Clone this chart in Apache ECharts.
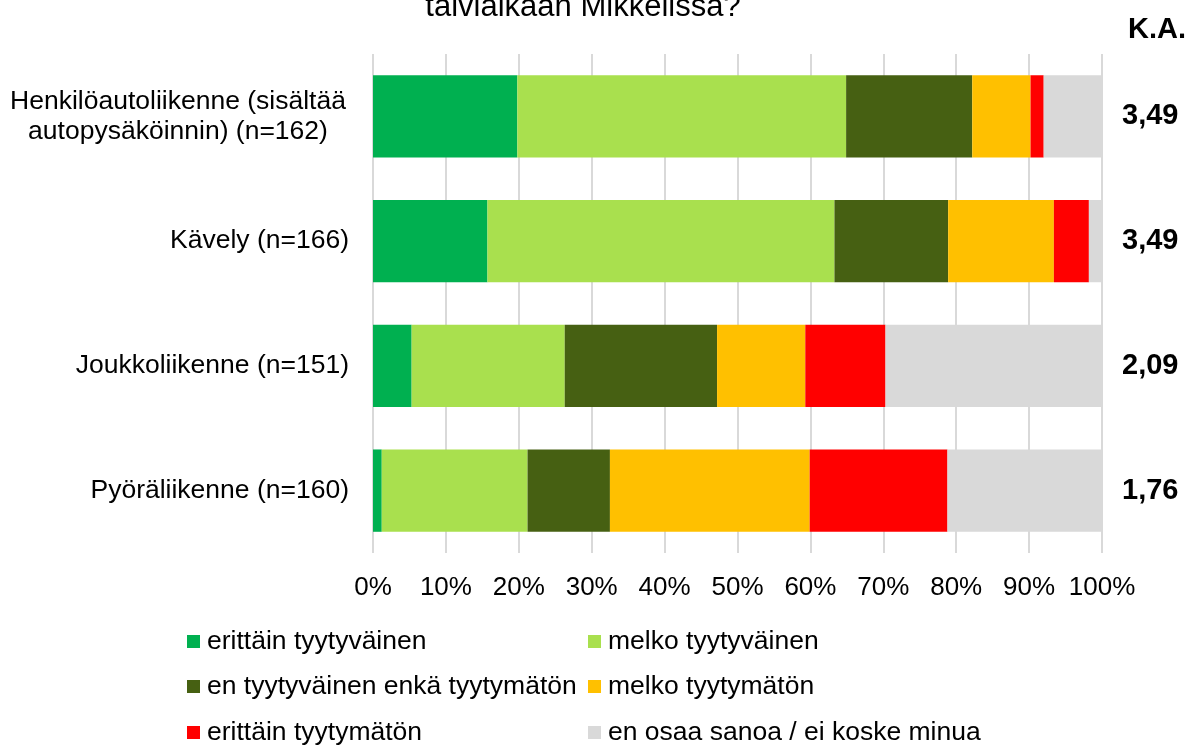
<!DOCTYPE html>
<html>
<head>
<meta charset="utf-8">
<script src="https://cdn.jsdelivr.net/npm/echarts@6/dist/echarts.min.js"></script>
<style>
html,body{margin:0;padding:0;background:#fff;}
#chart{width:1191px;height:747px;}
</style>
</head>
<body>
<div id="chart"></div>
<script>
var titleText = 'talviaikaan Mikkelissä?';
var kaHeader = 'K.A.';
var categories = ['Henkilöautoliikenne (sisältää\nautopysäköinnin) (n=162)', 'Kävely (n=166)', 'Joukkoliikenne (n=151)', 'Pyöräliikenne (n=160)'];
var kaValues = ['3,49', '3,49', '2,09', '1,76'];
var seriesNames = ['erittäin tyytyväinen', 'melko tyytyväinen', 'en tyytyväinen enkä tyytymätön', 'melko tyytymätön', 'erittäin tyytymätön', 'en osaa sanoa / ei koske minua'];
var s1 = [19.8, 15.7, 5.3, 1.2];
var s2 = [45.1, 47.6, 21.0, 20.0];
var s3 = [17.3, 15.6, 20.9, 11.3];
var s4 = [8.0, 14.5, 12.1, 27.4];
var s5 = [1.8, 4.8, 11.0, 18.9];
var s6 = [8.0, 1.8, 29.7, 21.2];
var seriesValues = [s1, s2, s3, s4, s5, s6];
var colors = ['#00B050', '#A9E04E', '#466012', '#FFC000', '#FF0000', '#D9D9D9'];

var FONT = '"Liberation Sans", Arial, sans-serif';
var chart = echarts.init(document.getElementById('chart'));

var legendPos = [[187, 628], [588, 628], [187, 673], [588, 673], [187, 719], [588, 719]];
var legends = seriesNames.map(function (n, i) {
  return {
    data: [n], left: legendPos[i][0], top: legendPos[i][1], padding: 0,
    icon: 'rect', itemWidth: 13, itemHeight: 13,
    selectedMode: false,
    textStyle: { fontFamily: FONT, fontSize: 26.5, color: '#000', padding: [0, 0, 0, 2] }
  };
});

var series = seriesNames.map(function (n, i) {
  return {
    name: n, type: 'bar', stack: 'all', data: seriesValues[i],
    barWidth: '66%',
    itemStyle: { color: colors[i] },
    yAxisIndex: 0
  };
});

chart.setOption({
  animation: false,
  backgroundColor: '#fff',
  color: colors,
  title: [
    { text: titleText, left: 578, top: -13, textAlign: 'center',
      textStyle: { fontFamily: FONT, fontSize: 31, fontWeight: 'normal', color: '#000' } },
    { text: kaHeader, left: 1123, top: 10,
      textStyle: { fontFamily: FONT, fontSize: 29, fontWeight: 'bold', color: '#000' } }
  ],
  legend: legends,
  grid: { left: 373, right: 89, top: 54, bottom: 194, containLabel: false },
  xAxis: {
    type: 'value', min: 0, max: 100, interval: 10,
    axisLine: { show: false }, axisTick: { show: false },
    splitLine: { show: true, lineStyle: { color: '#D9D9D9', width: 2 } },
    axisLabel: { formatter: '{value}%', fontFamily: FONT, fontSize: 26, color: '#000', margin: 22 }
  },
  yAxis: [
    {
      type: 'category', data: categories, inverse: true,
      axisLine: { show: false }, axisTick: { show: false },
      axisLabel: {
        fontFamily: FONT, fontSize: 26.5, color: '#000', margin: 24, lineHeight: 30,
        formatter: function (v) {
          if (v.indexOf('\n') >= 0) {
            return v.split('\n').map(function (l) { return '{c|' + l + '}'; }).join('\n');
          }
          return v;
        },
        rich: { c: { fontFamily: FONT, fontSize: 26.5, color: '#000', width: 342, align: 'center', lineHeight: 30 } }
      }
    },
    {
      type: 'category', data: categories, inverse: true, position: 'right',
      axisLine: { show: false }, axisTick: { show: false },
      axisLabel: {
        fontFamily: FONT, fontSize: 29, fontWeight: 'bold', color: '#000', margin: 20, align: 'left',
        formatter: function (v, idx) { return kaValues[idx]; }
      }
    }
  ],
  series: series
});
</script>
</body>
</html>
